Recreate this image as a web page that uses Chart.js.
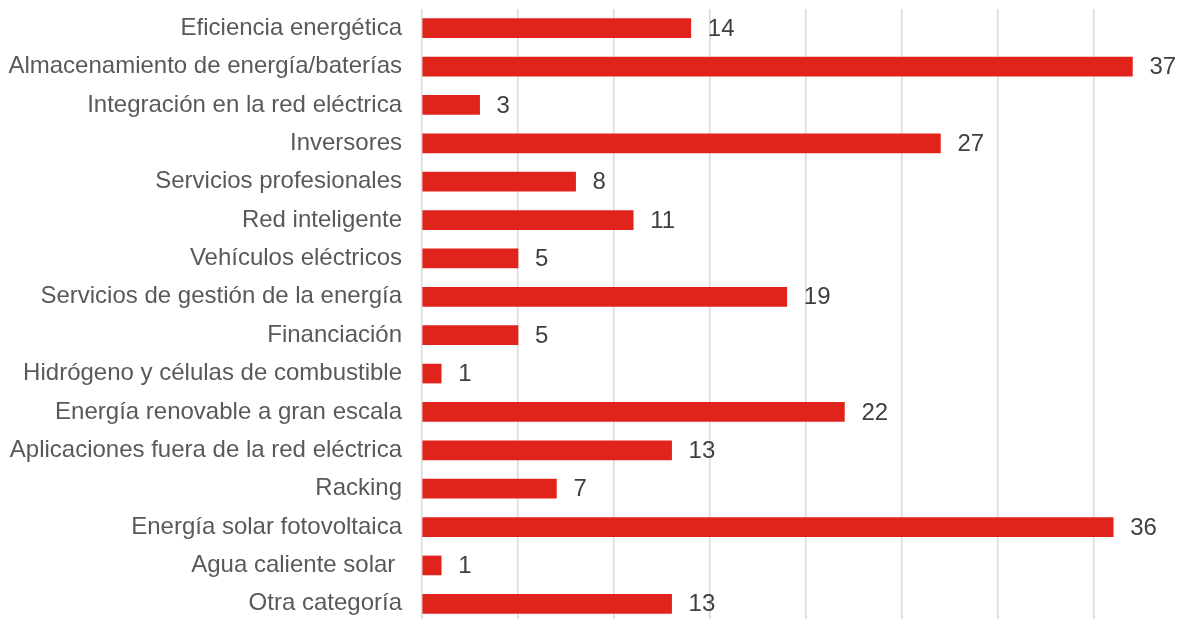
<!DOCTYPE html>
<html>
<head>
<meta charset="utf-8">
<script src="https://cdn.jsdelivr.net/npm/chart.js@4/dist/chart.umd.min.js"></script>
<style>
  html, body { margin: 0; padding: 0; background: #fff; overflow: hidden; }
  #wrap { width: 1190px; height: 623px; }
</style>
</head>
<body>
<div id="wrap"><canvas id="chart"></canvas></div>
<script>
const categories = [
  "Eficiencia energética",
  "Almacenamiento de energía/baterías",
  "Integración en la red eléctrica",
  "Inversores",
  "Servicios profesionales",
  "Red inteligente",
  "Vehículos eléctricos",
  "Servicios de gestión de la energía",
  "Financiación",
  "Hidrógeno y células de combustible",
  "Energía renovable a gran escala",
  "Aplicaciones fuera de la red eléctrica",
  "Racking",
  "Energía solar fotovoltaica",
  "Agua caliente solar ",
  "Otra categoría"
]
const counts = [14, 37, 3, 27, 8, 11, 5, 19, 5, 1, 22, 13, 7, 36, 1, 13]

const labelColor = "#595959"
const valueColor = "#404040"
const font = { family: "'Liberation Sans', Arial, sans-serif", size: 24 }

// value printed just past the end of each bar
const barValues = {
  id: "barValues",
  afterDatasetsDraw(chart) {
    const ctx = chart.ctx
    const meta = chart.getDatasetMeta(0)
    ctx.save()
    ctx.font = font.size + "px " + font.family
    ctx.fillStyle = valueColor
    ctx.textAlign = "left"
    ctx.textBaseline = "middle"
    meta.data.forEach((bar, i) => {
      ctx.fillText(String(counts[i]), bar.x + 17, bar.y + 1)
    })
    ctx.restore()
  }
}

new Chart(document.getElementById("chart"), {
  type: "bar",
  data: {
    labels: categories,
    datasets: [{
      data: counts,
      backgroundColor: "#e1241b",
      barThickness: 19
    }]
  },
  options: {
    indexAxis: "y",
    responsive: true,
    maintainAspectRatio: false,
    animation: false,
    layout: { padding: { top: 9, right: 0, bottom: 0, left: 0 } },
    plugins: {
      legend: { display: false },
      tooltip: { enabled: false }
    },
    scales: {
      x: {
        min: 0,
        max: 40,
        ticks: { display: false, stepSize: 5 },
        grid: { color: "#d9d9d9", lineWidth: 1.5, drawTicks: false },
        border: { display: false },
        afterFit(scale) {
          scale.height = 0
          scale.paddingLeft = 0
          scale.paddingRight = 0
        }
      },
      y: {
        ticks: { color: labelColor, font: font, padding: 20 },
        grid: { display: false, drawTicks: false },
        border: { display: false },
        afterFit(scale) {
          scale.width = 422
          scale.paddingTop = 0
          scale.paddingBottom = 0
        }
      }
    }
  },
  plugins: [barValues]
})
</script>
</body>
</html>
